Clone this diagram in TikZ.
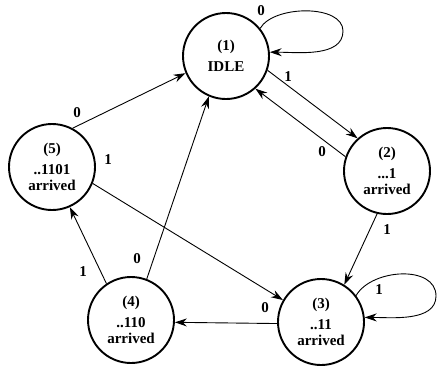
\documentclass[tikz,border=0pt]{standalone}
\usepackage{fontspec}
\setmainfont{Liberation Serif}
\usetikzlibrary{arrows.meta}
\tikzset{
  state/.style={circle, draw, line width=1.9pt, minimum size=86pt, inner sep=0pt,
    align=center, font=\fontsize{15}{16.5}\selectfont\bfseries},
  edge/.style={line width=0.9pt, -{Stealth[length=12pt,width=8pt,inset=4pt]}},
  lbl/.style={font=\fontsize{15}{16.5}\selectfont\bfseries, inner sep=0pt}
}
\begin{document}
\begin{tikzpicture}[x=1pt,y=-1pt]
\useasboundingbox (0,0) rectangle (438,368);
\node[state] (n1) at (226,56) {(1)\\[4pt]IDLE};
\node[state] (n2) at (387,171) {(2)\\[4pt]...1\\arrived};
\node[state] (n3) at (321,322) {(3)\\[4pt]..11\\arrived};
\node[state] (n4) at (131,320) {(4)\\[4pt]..110\\arrived};
\node[state] (n5) at (52,167) {(5)\\[4pt]..1101\\arrived};
\coordinate (l1) at (343,31);
\coordinate (l3) at (436,296);
% self loops
\draw[edge] (n1.39) to[out=60,in=90,looseness=0.83] (l1) to[out=-90,in=0,looseness=0.9] (n1.5);
\draw[edge] (n3.37) to[out=60,in=90,looseness=1] (l3) to[out=-90,in=0,looseness=0.9] (n3.6);
% transitions
\draw[edge] (n1.-19) -- (n2.132);
\draw[edge] (n2.161) -- (n1.-48);
\draw[edge] (n2.-103) -- (n3.58);
\draw[edge] (n3.182) -- (n4.-3);
\draw[edge] (n4.124) -- (n5.-66);
\draw[edge] (n4.69) -- (n1.-113);
\draw[edge] (n5.62) -- (n1.203);
\draw[edge] (n5.-22) -- (n3.150);
% labels
\node[lbl] (t1) at (261,11) {0};
\node[lbl] (t2) at (288,77) {1};
\node[lbl] (t3) at (322,152) {0};
\node[lbl] (t4) at (77,113) {0};
\node[lbl] (t5) at (108,160) {1};
\node[lbl] (t6) at (387,230) {1};
\node[lbl] (t7) at (379,290) {1};
\node[lbl] (t8) at (265,308) {0};
\node[lbl] (t9) at (83,272) {1};
\node[lbl] (t10) at (137,259) {0};
\end{tikzpicture}
\end{document}
